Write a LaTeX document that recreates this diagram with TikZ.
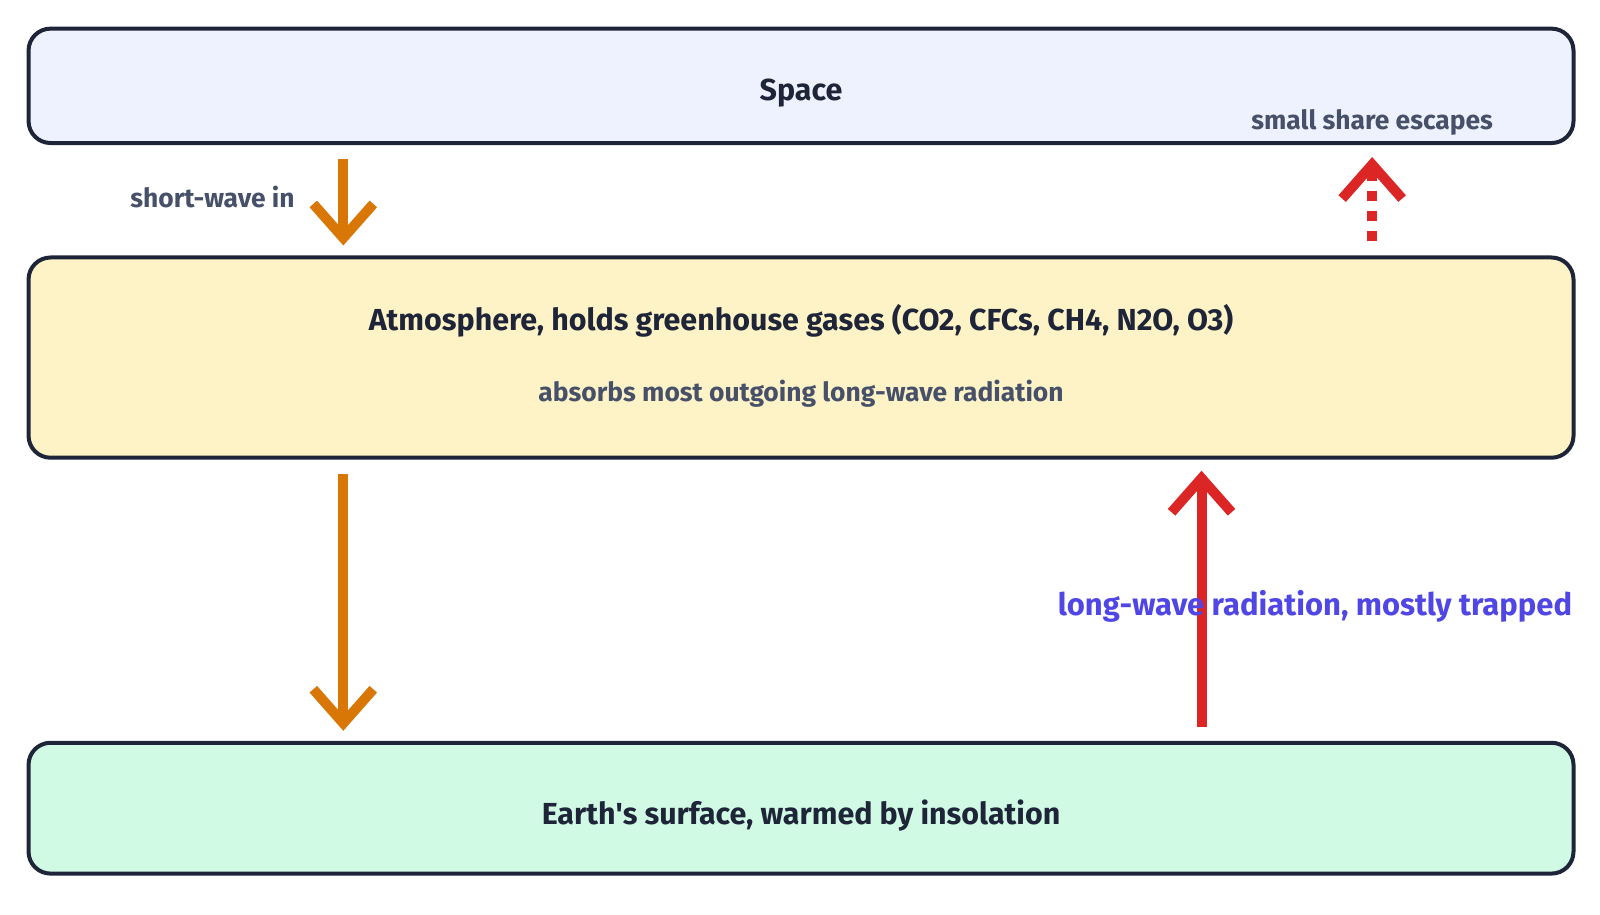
\documentclass[tikz,border=0pt]{standalone}
\usepackage{fontspec}
\setmainfont{Fira Sans}
\usetikzlibrary{arrows.meta}

\definecolor{boxline}{HTML}{1E2538}
\definecolor{spacefill}{HTML}{EEF2FE}
\definecolor{atmofill}{HTML}{FEF3C7}
\definecolor{earthfill}{HTML}{D1FAE5}
\definecolor{subtext}{HTML}{475069}
\definecolor{sunorange}{HTML}{D97706}
\definecolor{heatred}{HTML}{DC2626}
\definecolor{trapblue}{HTML}{4F46E5}

\tikzset{
  layer/.style={draw=boxline,line width=2pt,rounded corners=11pt,
    minimum width=772.4pt,inner sep=0pt},
  title/.style={text=boxline,font=\bfseries\fontsize{15.2}{18}\selectfont},
  note/.style={text=subtext,font=\bfseries\fontsize{13.2}{16}\selectfont},
  flow/.style={line width=5pt,-{Straight Barb[length=17pt,width=30pt,line width=5pt]}},
}

\begin{document}
\begin{tikzpicture}[x=0.5108pt,y=-0.5108pt]
          \useasboundingbox (0,0) rectangle (1566,894.6);

          \node[layer,fill=spacefill,minimum height=57.2pt] (space) at (784,84) {};
          \node[layer,fill=atmofill,minimum height=100.1pt] (atmo) at (784,350) {};
          \node[layer,fill=earthfill,minimum height=65.4pt] (earth) at (784,791) {};

          \node[title] (spacelbl) at (784,91) {Space};
          \node[note] (escapelbl) at (1343,120) {small share escapes};
          \node[title] (atmolbl) at (784,314) {Atmosphere, holds greenhouse gases (CO2, CFCs, CH4, N2O, O3)};
          \node[note] (absorblbl) at (784,385) {absorbs most outgoing long-wave radiation};
          \node[title] (earthlbl) at (784,798) {Earth\textquotesingle s surface, warmed by insolation};

          \coordinate (sunx) at (336,0);
          \coordinate (trapx) at (1176,0);
          \coordinate (escx) at (1343,0);

          % incoming short-wave
          \draw[flow,sunorange,shorten <=7pt,shorten >=5pt] (space.south -| sunx) -- (atmo.north -| sunx)
            node[midway,left=18.5pt,yshift=1.5pt,note] (swlbl) {short-wave in};
          \draw[flow,sunorange,shorten <=7pt,shorten >=5pt] (atmo.south -| sunx) -- (earth.north -| sunx);

          % outgoing long-wave
          \draw[flow,heatred,shorten <=7pt,shorten >=5.5pt] (earth.north -| trapx) -- (atmo.south -| trapx);
          \node[text=trapblue,font=\bfseries\fontsize{15.5}{18}\selectfont] (trapped) at (1287,593) {long-wave radiation, mostly trapped};

          \draw[flow,heatred,dash pattern=on 5pt off 5pt,shorten <=7pt,shorten >=6pt] (atmo.north -| escx) -- (space.south -| escx);

          \end{tikzpicture}
\end{document}
